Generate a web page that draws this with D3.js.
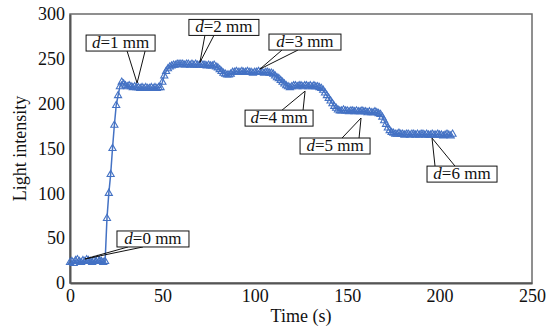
<!DOCTYPE html>
<html>
<head>
<meta charset="utf-8">
<script src="https://cdn.jsdelivr.net/npm/d3@7"></script>
<style>
  body { margin: 0; background: #fff; }
  text { font-family: "Liberation Serif", "Times New Roman", serif; fill: #111; }
</style>
</head>
<body>
<script>
var w = 550;
var h = 330;
var margin = {top: 14, right: 18, bottom: 47, left: 70};

// time (s), sampled about once a second
var time = [0,1,2,3,4,5,6,7,8,9,10,11,12,13,14,15,16,17,18,19,
  20,21,22,23,24,25,26,27,28,29,
  30,31,32,33,34,35,36,37,38,39,40,41,42,43,44,45,46,47,48,49,
  50,51,52,53,54,55,56,57,58,59,
  60,61,62,63,64,65,66,67,68,69,70,71,72,73,74,75,76,77,78,79,80,
  81,82,83,84,85,86,87,88,
  89,90,91,92,93,94,95,96,97,98,99,100,101,102,103,104,105,106,107,108,109,110,
  111,112,113,114,115,116,117,118,119,
  120,121,122,123,124,125,126,127,128,129,130,131,132,133,134,135,136,137,
  138,139,140,141,142,143,144,145,146,
  147,148,149,150,151,152,153,154,155,156,157,158,159,160,161,162,163,164,165,166,167,168,
  169,170,171,172,173,174,175,
  176,177,178,179,180,181,182,183,184,185,186,187,188,189,190,191,192,193,194,195,196,197,198,199,200,201,202,203,204,205,206,207];

// light intensity
var intensity = [23,24,22,25,26,24,23,25,24,26,25,24,23,25,24,26,25,24,23,24,
  72,100,121,150,176,198,209,219,224,222,
  220,219,220,219,218,219,218,218,217,218,217,218,217,217,218,217,218,217,218,218,
  224,231,236,239,241,242,243,243,244,244,
  244,244,243,244,244,243,244,243,244,243,243,244,243,243,242,243,242,242,243,241,240,
  238,236,234,233,232,232,233,235,
  235,236,235,235,236,235,235,236,235,235,234,235,235,236,235,235,234,235,235,234,234,233,
  231,229,228,226,224,222,220,219,218,
  219,220,220,219,220,220,219,220,220,219,220,219,220,219,219,218,217,215,
  212,209,206,203,200,197,195,193,192,
  192,193,192,192,191,192,192,191,192,191,191,192,191,191,190,191,190,190,191,190,189,188,
  185,181,177,173,170,168,167,
  166,166,167,166,166,165,166,166,165,166,166,165,166,165,166,166,165,166,165,165,166,165,165,166,165,165,164,165,166,165,164,166];

var xTicks = [0, 50, 100, 150, 200, 250];
var yTicks = [0, 50, 100, 150, 200, 250, 300];

// callouts: label, point on the curve (t, v)
var labels = ["0", "1", "2", "3", "4", "5", "6"];
var labelT = [8.1, 36.3, 70.3, 102.8, 127.2, 157.5, 195.9];
var labelV = [26.8, 223, 246, 238.6, 214, 184, 161.6];

var data = time.map(function(t, i) { return {t: t, v: intensity[i]}; });

var x = d3.scaleLinear().domain([0, 250]).range([margin.left, w - margin.right]);
var y = d3.scaleLinear().domain([0, 300]).range([h - margin.bottom, margin.top]);

var svg = d3.select("body").append("svg")
  .attr("width", w)
  .attr("height", h);

// frame
svg.append("rect")
  .attr("x", x(0)).attr("y", y(300))
  .attr("width", x(250) - x(0)).attr("height", y(0) - y(300))
  .attr("fill", "none")
  .attr("stroke", "#6b6b6b")
  .attr("stroke-width", 1.5);

var xAxis = d3.axisBottom(x).tickValues(xTicks).tickSize(0).tickPadding(6);
var yAxis = d3.axisLeft(y).tickValues(yTicks).tickSize(0).tickPadding(5);

var gx = svg.append("g")
  .attr("transform", "translate(0," + y(0) + ")")
  .call(xAxis);
var gy = svg.append("g")
  .attr("transform", "translate(" + x(0) + ",0)")
  .call(yAxis);

[gx, gy].forEach(function(g) {
  g.select(".domain").attr("stroke", "#555").attr("stroke-width", 2);
  g.selectAll("text")
    .attr("font-family", "Liberation Serif, serif")
    .attr("font-size", "18px")
    .attr("fill", "#111");
});

svg.append("text")
  .attr("x", (x(0) + x(250)) / 2)
  .attr("y", 322)
  .attr("text-anchor", "middle")
  .attr("font-size", "18px")
  .text("Time (s)");

svg.append("text")
  .attr("transform", "translate(26," + ((y(0) + y(300)) / 2) + ") rotate(-90)")
  .attr("text-anchor", "middle")
  .attr("font-size", "18px")
  .text("Light intensity");

// series
var blue = "#4472c4";
svg.append("path")
  .datum(data)
  .attr("fill", "none")
  .attr("stroke", blue)
  .attr("stroke-width", 1.5)
  .attr("d", d3.line().x(function(d) { return x(d.t); }).y(function(d) { return y(d.v); }));

var tri = d3.symbol().type(d3.symbolTriangle).size(22);
svg.selectAll(".pt")
  .data(data)
  .enter()
  .append("path")
  .attr("class", "pt")
  .attr("transform", function(d) { return "translate(" + x(d.t) + "," + y(d.v) + ")"; })
  .attr("d", tri)
  .attr("fill", "none")
  .attr("stroke", blue)
  .attr("stroke-width", 1.1);

// callout layout in pixels, relative to the pointed spot
var boxes = [
  {dx: 32,  dy: -28, w: 72, b: [11, 26], top: false},
  {dx: -51, dy: -48, w: 69, b: [41, 59], top: false},
  {dx: -11, dy: -43, w: 70, b: [16, 25], top: false},
  {dx: 9,   dy: -35, w: 72, b: [13, 29], top: false},
  {dx: -60, dy: 19,  w: 68, b: [37, 58], top: true},
  {dx: -61, dy: 20,  w: 70, b: [42, 59], top: true},
  {dx: -5,  dy: 28,  w: 70, b: [8, 28],  top: true}
];
var bh = 16;

labels.forEach(function(lab, i) {
  var px = x(labelT[i]), py = y(labelV[i]);
  var bx = boxes[i];
  var left = px + bx.dx, top = py + bx.dy;
  var edge = bx.top ? top : top + bh;
  var g = svg.append("g");
  bx.b.forEach(function(o) {
    g.append("line")
      .attr("x1", left + o).attr("y1", edge)
      .attr("x2", px).attr("y2", py)
      .attr("stroke", "#111").attr("stroke-width", 1);
  });
  g.append("rect")
    .attr("x", left).attr("y", top)
    .attr("width", bx.w).attr("height", bh)
    .attr("fill", "white")
    .attr("stroke", "#111").attr("stroke-width", 1);
  var t = g.append("text")
    .attr("x", left + bx.w / 2)
    .attr("y", top + 13)
    .attr("text-anchor", "middle")
    .attr("font-size", "17px");
  t.append("tspan").attr("font-style", "italic").text("d");
  t.append("tspan").text("=" + lab + " mm");
});
</script>
</body>
</html>
